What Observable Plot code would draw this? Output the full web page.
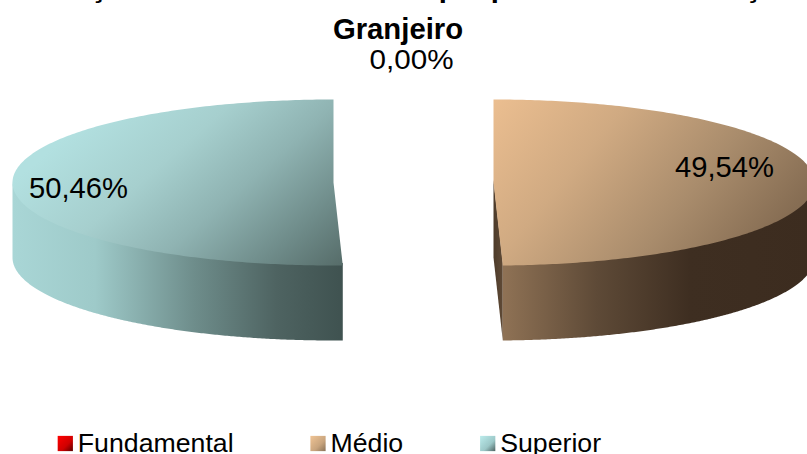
<!DOCTYPE html>
<html lang="pt">
<head>
<meta charset="utf-8">
<style>html,body{margin:0;padding:0;background:#fff;overflow:hidden}</style>
<script src="https://cdn.jsdelivr.net/npm/d3@7"></script>
<script src="https://cdn.jsdelivr.net/npm/@observablehq/plot@0.6"></script>
</head>
<body>
<div id="chart"></div>
<script>
const categories = ["Fundamental", "Médio", "Superior"];
const shares = [0.00, 49.54, 50.46];
const labels = ["0,00%", "49,54%", "50,46%"];
const titleLines = ["Formações docentes do Município por nível de formação", "Granjeiro"];

const W = 807, H = 454;
const centerX = 413, centerY = 182, radiusX = 321, radiusY = 83, depthPx = 75, explodePx = 80;
const explode = explodePx / radiusX, depth = depthPx / radiusY;
const font = "'Liberation Sans', Arial, sans-serif";

function arc(share, sign, fromDeg = 0, toDeg = null) {
  const end = toDeg ?? share * 3.6, n = 240, pts = [];
  for (let i = 0; i <= n; i++) {
    const t = (fromDeg + (end - fromDeg) * i / n) * Math.PI / 180;
    pts.push({x: sign * (explode + Math.sin(t)), y: Math.cos(t)});
  }
  return pts;
}
const medio = shares[1], sup = shares[2];
const medioAngle = medio * 3.6, supAngle = sup * 3.6;
const apexR = {x: explode, y: 0}, apexL = {x: -explode, y: 0};

const faceR = [apexR, ...arc(medio, 1)];
const faceL = [apexL, ...arc(sup, -1)];
const seam = 0.03;
const wallOf = (pts) => [...pts.map(p => ({x: p.x, y: p.y + seam})), ...pts.slice().reverse().map(p => ({x: p.x, y: p.y - depth}))];
const wallR = wallOf(arc(medio, 1, 90, medioAngle));
const wallL = wallOf(arc(sup, -1, 90, supAngle));
const endR = arc(medio, 1).at(-1);
const cutR = [{x: apexR.x, y: seam}, {x: endR.x, y: endR.y + seam}, {x: endR.x, y: endR.y - depth}, {x: apexR.x, y: -depth}];

function gradients() {
  const defs = d3.create("svg:defs");
  const add = (id, [x1, y1, x2, y2], stops) => {
    const g = defs.append("linearGradient").attr("id", id)
      .attr("x1", x1).attr("y1", y1).attr("x2", x2).attr("y2", y2);
    stops.forEach(([o, c]) => g.append("stop").attr("offset", o).attr("stop-color", c));
  };
  add("faceL", [0, 0.5, 0.965, 1.06], [[0, "#b2e0e0"], [0.3, "#a6cfce"], [0.55, "#8fb3b2"], [0.8, "#6f8c8a"], [1, "#566c69"]]);
  add("wallL", [0, 0, 1, 0], [[0, "#a9d6d6"], [0.25, "#9ecac9"], [0.55, "#6e8d8b"], [0.8, "#4e6361"], [1, "#3f5250"]]);
  add("faceR", [0, 0, 1.03, 0.44], [[0, "#ebbe90"], [0.35, "#d0aa82"], [0.7, "#a98c6c"], [1, "#866d53"]]);
  add("wallR", [0, 0, 1, 0], [[0, "#8f7255"], [0.3, "#5e4a37"], [0.6, "#3e2e21"], [1, "#3c2c1f"]]);
  add("cutR", [0, 0, 1, 0], [[0, "#4d3b2a"], [1, "#5f4a36"]]);
  add("swatchF", [0, 0, 1, 1], [[0, "#ff0000"], [0.6, "#d00000"], [1, "#5a0000"]]);
  add("swatchM", [0, 0, 1, 1], [[0, "#f0c495"], [0.6, "#c9a57e"], [1, "#8a7258"]]);
  add("swatchS", [0, 0, 1, 1], [[0, "#bcecec"], [0.6, "#9cc8c8"], [1, "#4e6361"]]);
  return defs.node();
}

const poly = (data, fill) => Plot.line(data, {x: "x", y: "y", z: null, fill, stroke: "none", curve: "linear"});
const condensed = (length) => (index, scales, values, dims, context, next) => {
  const g = next(index, scales, values, dims, context);
  d3.select(g).selectAll("text").attr("textLength", length).attr("lengthAdjust", "spacingAndGlyphs");
  return g;
};

const legendX = [57.3, 310, 479.7];
const legendRows = categories.map((name, i) => ({name, x: legendX[i], fill: ["url(#swatchF)", "url(#swatchM)", "url(#swatchS)"][i]}));

const textAt = (text, px, py, opts) => Plot.text([text], {
  frameAnchor: "top-left", dx: px, dy: py, textAnchor: "start", lineAnchor: "bottom",
  fontFamily: font, fill: "#000", ...opts
});

const chart = Plot.plot({
  width: W, height: H,
  margin: 0,
  style: {background: "#fff", fontFamily: font},
  x: {axis: null, domain: [-centerX / radiusX, (W - centerX) / radiusX], range: [0, W]},
  y: {axis: null, domain: [centerY / radiusY, (centerY - H) / radiusY], range: [0, H]},
  marks: [
    gradients,
    poly(wallL, "url(#wallL)"),
    poly(faceL, "url(#faceL)"),
    poly(cutR, "url(#cutR)"),
    poly(wallR, "url(#wallR)"),
    poly(faceR, "url(#faceR)"),
    textAt(titleLines[0], 397.5, -4, {fontSize: 29.3, fontWeight: "bold", textAnchor: "middle"}),
    textAt(titleLines[1], 397.5, 38, {fontSize: 29.3, fontWeight: "bold", textAnchor: "middle"}),
    textAt(labels[0], 369, 68, {fontSize: 28, render: condensed(84)}),
    textAt(labels[1], 674.5, 176, {fontSize: 29.2}),
    textAt(labels[2], 28.5, 197, {fontSize: 29.2}),
    ...legendRows.flatMap((d) => [
      Plot.dot([d], {frameAnchor: "top-left", dx: d.x + 7.5, dy: 443, r: 8.6, symbol: "square", fill: d.fill, stroke: "none"}),
      textAt(d.name, d.x + 20, 451, {fontSize: 26.7})
    ])
  ]
});
document.getElementById("chart").append(chart);
</script>
</body>
</html>
